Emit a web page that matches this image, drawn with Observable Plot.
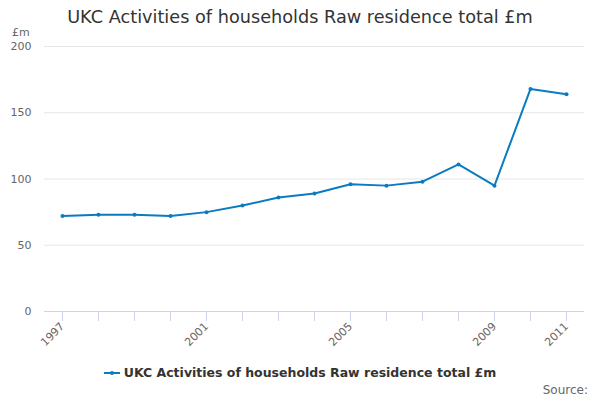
<!DOCTYPE html>
<html>
<head>
<meta charset="utf-8">
<script src="https://cdn.jsdelivr.net/npm/d3@7"></script>
<script src="https://cdn.jsdelivr.net/npm/@observablehq/plot@0.6"></script>
<style>
  html, body { margin: 0; padding: 0; background: #fff; }
  #wrap { position: relative; width: 600px; height: 400px; font-family: "DejaVu Sans", sans-serif; overflow: hidden; }
  #title { position: absolute; left: 0; width: 600px; top: 7px; text-align: center; font-size: 17.7px; color: #333; }
  #unit { position: absolute; left: 12px; top: 26px; font-size: 11px; color: #666; }
  #legend { position: absolute; left: 0; width: 600px; top: 365px; text-align: center; font-size: 12.5px; font-weight: bold; color: #333; }
  #legend svg { vertical-align: middle; margin-right: 4px; position: relative; top: -1px; }
  #source { position: absolute; right: 12px; top: 383px; font-size: 12px; color: #666; }
  #chart { position: absolute; left: 0; top: 0; }
</style>
</head>
<body>
<div id="wrap">
  <div id="chart"></div>
  <div id="title">UKC Activities of households Raw residence total £m</div>
  <div id="unit">£m</div>
  <div id="legend"><svg width="16" height="10"><line x1="0" y1="5" x2="16" y2="5" stroke="#0b7bc1" stroke-width="2"/><circle cx="8" cy="5" r="2" fill="#0b7bc1"/></svg>UKC Activities of households Raw residence total £m</div>
  <div id="source">Source:</div>
</div>
<script>
const years = [1997, 1998, 1999, 2000, 2001, 2002, 2003, 2004, 2005, 2006, 2007, 2008, 2009, 2010, 2011];
const values = [72, 73, 73, 72, 75, 80, 86, 89, 96, 95, 98, 111, 95, 168, 164];
const labelYears = [1997, 2001, 2005, 2009, 2011];
const yTicks = [0, 50, 100, 150, 200];
const gridTicks = [50, 100, 150, 200];
const color = "#0b7bc1";

const data = years.map((y, i) => ({year: y, value: values[i]}));

const chart = Plot.plot({
  width: 600,
  height: 400,
  marginTop: 46,
  marginBottom: 89,
  marginLeft: 44,
  marginRight: 16,
  style: {fontFamily: "DejaVu Sans, sans-serif", fontSize: "11px", color: "#666", background: "transparent"},
  x: {domain: [1996.5, 2011.5]},
  y: {domain: [0, 200]},
  marks: [
    Plot.ruleY(gridTicks, {stroke: "#e6e6e6", strokeWidth: 1}),
    Plot.ruleY([0], {stroke: "#ccd6eb", strokeWidth: 1}),
    Plot.axisY({ticks: yTicks, tickSize: 0, tickPadding: 13, label: null, fill: "#666", fontSize: 11}),
    Plot.axisX({ticks: years, tickSize: 10, tickFormat: () => "", stroke: "#ccd6eb", label: null}),
    Plot.axisX({ticks: labelYears, tickSize: 10, strokeOpacity: 0, tickFormat: d => String(d), tickRotate: -45, tickPadding: 3, label: null, fill: "#666", fontSize: 11}),
    Plot.line(data, {x: "year", y: "value", stroke: color, strokeWidth: 2}),
    Plot.dot(data, {x: "year", y: "value", fill: color, r: 2})
  ]
});
document.getElementById("chart").appendChild(chart);
</script>
</body>
</html>
